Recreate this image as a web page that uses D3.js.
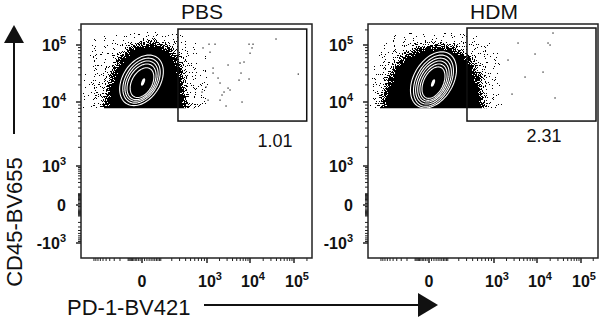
<!DOCTYPE html>
<html>
<head>
<meta charset="utf-8">
<script src="https://cdn.jsdelivr.net/npm/d3@7"></script>
<style>
body { margin: 0; background: #fff; }
svg { display: block; font-family: "Liberation Sans", Arial, Helvetica, sans-serif; }
</style>
</head>
<body>
<svg id="chart" width="604" height="320"></svg>
<script>
// values: PD-1 (x) and CD45 (y), raw fluorescence units
const panelNames = ["PBS", "HDM"];
const gatePercents = ["1.01", "2.31"];
const cd45Cutoff = 8000;               // pre-gate, population is cut flat here
const xMajorTicks = [0, 1e3, 1e4, 1e5];
const yMajorTicks = [-1e3, 0, 1e3, 1e4, 1e5];

// gates: [x0, x1, y0, y1]
const pbsGate = [277, 197700, 5120, 208000];
const hdmGate = [306, 234000, 5120, 218000];

// outline of the solid (saturated) part of the population
const pbsCore = [[-460, 5000], [-400, 16300], [-290, 33000], [-160, 60000], [-40, 90000], [35, 103000],
    [135, 90000], [240, 60000], [305, 33000], [340, 16000], [355, 5000]];
const hdmCore = [[-800, 5000], [-674, 17500], [-446, 36500], [-231, 59000], [-57, 81800], [50, 90000],
    [191, 76000], [354, 50700], [487, 26400], [532, 13300], [555, 5000]];

// outline of the sparse halo of events
const pbsCloud = [[-1700, 5000], [-1800, 55000], [-1550, 125000], [-720, 180000], [-200, 200000], [12, 215000],
    [135, 210000], [390, 180000], [920, 100000], [1320, 55000], [1320, 16000], [1050, 5000]];
const hdmCloud = [[-1700, 5000], [-1800, 55000], [-1300, 135000], [-450, 200000], [5, 225000], [160, 215000],
    [555, 180000], [1400, 100000], [1840, 29800], [1400, 5000]];

// density contours: [xLow, xHigh, yLow, yHigh]
const pbsContours = [[-185, 109, 8800, 66700], [-145, 87, 9600, 59000], [-122, 74, 10300, 52500],
    [-101, 62, 11000, 46500], [-73, 50, 12000, 40000]];
const hdmContours = [[-133, 160, 8100, 76000], [-101, 133, 8600, 66700], [-82, 117, 9300, 59000],
    [-65, 101, 10000, 52500], [-49, 87, 10700, 46500], [-35, 74, 11600, 41400]];

// density peak
const pbsSpot = [4, 22500];
const hdmSpot = [16, 21600];

// single events in and around the gate
const pbsEvents = [[1118, 104000], [1561, 104000], [848, 89000], [1183, 75000], [9490, 104000], [11700, 104000],
    [11100, 89000], [10000, 72000], [39000, 131800], [1400, 39500], [1400, 32300], [3150, 44700],
    [5930, 48400], [7300, 50400], [6240, 32300], [5620, 24300], [9490, 25400], [1840, 26400],
    [2050, 21600], [3150, 17600], [3500, 16300], [2540, 15000], [2280, 13300], [2050, 10800],
    [125500, 31000], [6580, 10000], [2830, 8700], [960, 18400], [814, 15000], [1060, 10800]];
const hdmEvents = [[3690, 109600], [9010, 69600], [17800, 109600], [19800, 100000], [23100, 173400],
    [13700, 33600], [25700, 11800], [2680, 13800], [5340, 27500], [2160, 54600]];

const panelData = [
    { core: pbsCore, cloud: pbsCloud, contours: pbsContours, spot: pbsSpot, events: pbsEvents, gate: pbsGate },
    { core: hdmCore, cloud: hdmCloud, contours: hdmContours, spot: hdmSpot, events: hdmEvents, gate: hdmGate }
];

// ---- layout ----
const layout = [
    { x0: 81, w: 231, labelX: 275, labelY: 147, titleX: 202 },
    { x0: 368, w: 230, labelX: 544, labelY: 142, titleX: 494 }
];
const plotTop = 24, plotBottom = 258;
const xKnots = [-2000, 0, 1e3, 1e4, 1e5, 262144];
const xOffsets = [0, 61, 126, 169, 213];
const yKnots = [-2000, -1e3, 0, 1e3, 1e4, 1e5, 262144];
const yPixels = [258, 243, 205, 166, 102, 45, 24];

// biexponential-like display transform, piecewise calibrated on the decades
const T = v => Math.sign(v) * Math.log10(1 + Math.abs(v) / 100);
function biexScale(knots, pixels) {
    const lin = d3.scaleLinear().domain(knots.map(T)).range(pixels);
    const f = v => lin(T(v));
    return f;
}

// minor ticks: 1..9 per decade on both sides of zero
const minorTicks = [];
[10, 100, 1000, 10000, 100000].forEach(k => {
    d3.range(1, 10).forEach(m => { minorTicks.push(m * k); minorTicks.push(-m * k); });
});

const svg = d3.select("#chart");
const defs = svg.append("defs");

// grain filter: blurred density + noise, thresholded into dots
const filt = defs.append("filter")
    .attr("id", "speckle")
    .attr("filterUnits", "userSpaceOnUse")
    .attr("x", 0).attr("y", 0).attr("width", 604).attr("height", 320)
    .attr("color-interpolation-filters", "sRGB");
filt.append("feGaussianBlur").attr("in", "SourceAlpha").attr("stdDeviation", 6).attr("result", "dens");
filt.append("feTurbulence").attr("type", "fractalNoise").attr("baseFrequency", 0.9)
    .attr("numOctaves", 1).attr("seed", 7).attr("result", "noise");
filt.append("feColorMatrix").attr("in", "noise").attr("type", "matrix")
    .attr("values", "0 0 0 0 0  0 0 0 0 0  0 0 0 0 0  2.5 0 0 0 -0.75").attr("result", "na");
filt.append("feComposite").attr("in", "dens").attr("in2", "na").attr("operator", "arithmetic")
    .attr("k1", 0).attr("k2", 1).attr("k3", 0.6).attr("k4", -0.1).attr("result", "sum");
filt.append("feComponentTransfer").attr("in", "sum")
    .append("feFuncA").attr("type", "discrete").attr("tableValues", "0 0 0 0 0 0 0 1 1 1");

function supLabel(text, v) {
    if (v === 0) { text.text("0"); return; }
    text.append("tspan").text((v < 0 ? "-" : "") + "10");
    text.append("tspan").attr("dy", -7).attr("font-size", 11).text(Math.round(Math.log10(Math.abs(v))));
}

panelData.forEach((pd, i) => {
    const L = layout[i];
    const x = biexScale(xKnots, xOffsets.map(o => L.x0 + o).concat([L.x0 + L.w]));
    const y = biexScale(yKnots, yPixels);
    const g = svg.append("g").attr("class", "panel");

    // clip: inside the frame and above the CD45 pre-gate
    defs.append("clipPath").attr("id", "clip" + i)
        .append("rect")
        .attr("x", L.x0 + 1).attr("y", plotTop + 1)
        .attr("width", L.w - 2).attr("height", y(cd45Cutoff) - plotTop - 1);

    const blob = d3.line().x(d => x(d[0])).y(d => y(d[1])).curve(d3.curveCatmullRomClosed);
    const pop = g.append("g").attr("clip-path", `url(#clip${i})`)
        .append("g").attr("filter", "url(#speckle)");
    pop.append("path").attr("d", blob(pd.cloud)).attr("fill", "#000").attr("fill-opacity", 0.26);
    pop.append("path").attr("d", blob(pd.core)).attr("fill", "#000");

    // contour lines
    const shear = 0.3;
    const ell = b => {
        const x0 = x(b[0]), x1 = x(b[1]), y0 = y(b[3]), y1 = y(b[2]);
        const cx = (x0 + x1) / 2, cy = (y0 + y1) / 2, rx = (x1 - x0) / 2, ry = (y1 - y0) / 2;
        const pts = d3.range(72).map(k => {
            const t = k / 72 * 2 * Math.PI;
            const ey = cy + ry * Math.sin(t);
            return [cx + rx * Math.cos(t) + shear * (cy - ey), ey];
        });
        return d3.line().curve(d3.curveLinearClosed)(pts);
    };
    const cg = g.append("g").attr("clip-path", `url(#clip${i})`);
    cg.selectAll("path.contour")
        .data(pd.contours)
        .enter().append("path")
        .attr("class", "contour")
        .attr("d", ell)
        .attr("fill", "none")
        .attr("stroke", "#fff")
        .attr("stroke-width", 1.1);
    cg.append("ellipse")
        .attr("cx", x(pd.spot[0])).attr("cy", y(pd.spot[1]))
        .attr("rx", 1.6).attr("ry", 4)
        .attr("transform", `rotate(20, ${x(pd.spot[0])}, ${y(pd.spot[1])})`)
        .attr("fill", "#fff");

    // single events
    g.append("g").selectAll("rect")
        .data(pd.events)
        .enter().append("rect")
        .attr("x", d => x(d[0]) - 0.6).attr("y", d => y(d[1]) - 0.6)
        .attr("width", 1.3).attr("height", 1.3)
        .attr("fill", "#333");

    // gate
    g.append("rect")
        .attr("x", x(pd.gate[0])).attr("y", y(pd.gate[3]))
        .attr("width", x(pd.gate[1]) - x(pd.gate[0]))
        .attr("height", y(pd.gate[2]) - y(pd.gate[3]))
        .attr("fill", "none").attr("stroke", "#111").attr("stroke-width", 1.5);
    g.append("text")
        .attr("x", L.labelX).attr("y", L.labelY)
        .attr("text-anchor", "middle")
        .attr("font-size", 18).attr("fill", "#111")
        .text(gatePercents[i]);

    // frame
    g.append("rect")
        .attr("x", L.x0).attr("y", plotTop)
        .attr("width", L.w).attr("height", plotBottom - plotTop)
        .attr("fill", "none").attr("stroke", "#222").attr("stroke-width", 1.5);

    // axis ticks
    const yMinor = minorTicks.filter(v => v > yKnots[0] && v < 262144 && !yMajorTicks.includes(v));
    const xMinor = minorTicks.filter(v => v > xKnots[0] && v < 262144 && !xMajorTicks.includes(v));
    const tickG = g.append("g").attr("stroke", "#222");
    tickG.selectAll("line.ym").data(yMinor).enter().append("line")
        .attr("x1", L.x0).attr("x2", L.x0 - 3).attr("y1", d => y(d)).attr("y2", d => y(d)).attr("stroke-width", 1);
    tickG.selectAll("line.yM").data(yMajorTicks).enter().append("line")
        .attr("x1", L.x0).attr("x2", L.x0 - 5).attr("y1", d => y(d)).attr("y2", d => y(d)).attr("stroke-width", 1.5);
    tickG.selectAll("line.xm").data(xMinor).enter().append("line")
        .attr("y1", plotBottom).attr("y2", plotBottom + 3).attr("x1", d => x(d)).attr("x2", d => x(d)).attr("stroke-width", 1);
    tickG.selectAll("line.xM").data(xMajorTicks).enter().append("line")
        .attr("y1", plotBottom).attr("y2", plotBottom + 5).attr("x1", d => x(d)).attr("x2", d => x(d)).attr("stroke-width", 1.5);

    // tick labels
    yMajorTicks.forEach(v => {
        const t = g.append("text")
            .attr("x", L.x0 - 15).attr("y", y(v) + 6)
            .attr("text-anchor", "end")
            .attr("font-size", 16).attr("font-weight", "bold").attr("fill", "#111");
        supLabel(t, v);
    });
    xMajorTicks.forEach(v => {
        const t = g.append("text")
            .attr("x", x(v) + (v === 0 ? 0 : 3)).attr("y", 287)
            .attr("text-anchor", "middle")
            .attr("font-size", 16).attr("font-weight", "bold").attr("fill", "#111");
        supLabel(t, v);
    });

    // panel title
    g.append("text")
        .attr("x", L.titleX).attr("y", 19)
        .attr("text-anchor", "middle")
        .attr("font-size", 21).attr("fill", "#111")
        .text(panelNames[i]);
});

// axis titles with arrows
svg.append("text")
    .attr("transform", "translate(22, 222) rotate(-90)")
    .attr("text-anchor", "middle")
    .attr("font-size", 22).attr("fill", "#111")
    .text("CD45-BV655");
svg.append("line").attr("x1", 14).attr("x2", 14).attr("y1", 134).attr("y2", 40)
    .attr("stroke", "#111").attr("stroke-width", 2);
svg.append("path").attr("d", "M14,25 L4,43 L24,43 Z").attr("fill", "#111");

svg.append("text")
    .attr("x", 67).attr("y", 315)
    .attr("font-size", 22).attr("fill", "#111")
    .text("PD-1-BV421");
svg.append("line").attr("x1", 204).attr("x2", 422).attr("y1", 305).attr("y2", 305)
    .attr("stroke", "#111").attr("stroke-width", 2);
svg.append("path").attr("d", "M438,305 L418,293 L418,317 Z").attr("fill", "#111");
</script>
</body>
</html>
